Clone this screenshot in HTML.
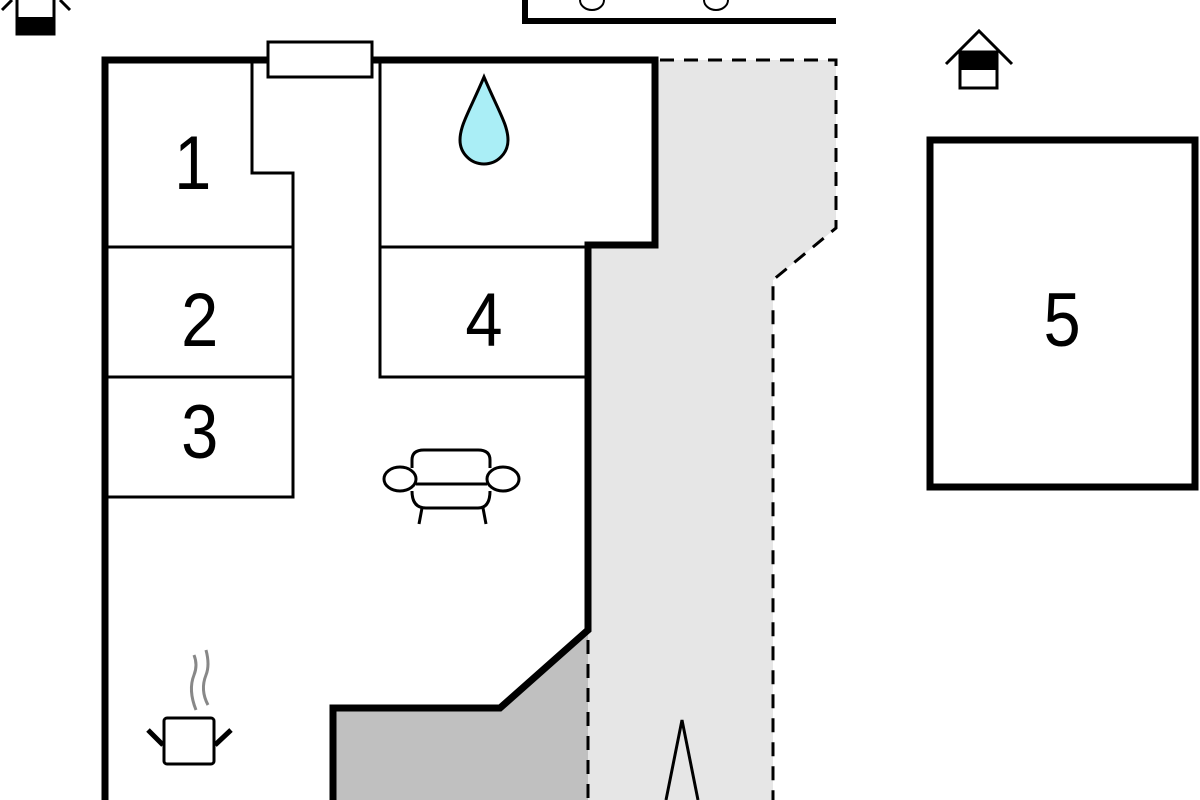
<!DOCTYPE html>
<html><head><style>
html,body{margin:0;padding:0;background:#fff;width:1200px;height:800px;overflow:hidden}
svg{display:block}
text{font-family:"Liberation Sans",sans-serif;font-size:76px;fill:#000;text-anchor:middle}
</style></head><body>
<svg width="1200" height="800" viewBox="0 0 1200 800" xmlns="http://www.w3.org/2000/svg">
<polygon points="655,60 836,60 836,228 773,280 773,800 588,800 588,245 655,245" fill="#e6e6e6"/>
<polygon points="333,708 500,708 588,630 588,800 333,800" fill="#c0c0c0"/>
<g fill="none" stroke="#000" stroke-width="3" stroke-dasharray="14,10">
<polyline points="660,60 836,60 836,228 773,280 773,800"/>
<line x1="588" y1="640" x2="588" y2="800"/>
</g>
<polyline points="105,800 105,60 655,60 655,245 588,245 588,630 500,708 333,708 333,800" fill="none" stroke="#000" stroke-width="7"/>
<g fill="none" stroke="#000" stroke-width="3">
<polyline points="252,60 252,173 293,173 293,497 105,497"/>
<line x1="105" y1="247" x2="293" y2="247"/>
<line x1="105" y1="377" x2="293" y2="377"/>
<polyline points="380,60 380,377 588,377"/>
<line x1="380" y1="247" x2="588" y2="247"/>
</g>
<rect x="268" y="42" width="104" height="35" fill="#fff" stroke="#000" stroke-width="3"/>
<path d="M484,77 C470,110 460,125 460,140 A24,24 0 0 0 508,140 C508,125 498,110 484,77 Z" fill="#aaeef6" stroke="#000" stroke-width="3"/>
<g transform="scale(0.88,1)">
<text x="219" y="189">1</text>
<text x="227" y="346">2</text>
<text x="227" y="458">3</text>
<text x="550" y="346">4</text>
<text x="1207" y="346">5</text>
</g>
<rect x="930" y="140" width="265" height="347" fill="none" stroke="#000" stroke-width="7"/>
<polyline points="525,0 525,21 836,21" fill="none" stroke="#000" stroke-width="6"/>
<path d="M580,0 A12,10 0 0 0 604,0 M704,0 A12,10 0 0 0 728,0" fill="none" stroke="#000" stroke-width="2"/>
<g fill="none" stroke="#000" stroke-width="3">
<polyline points="946,64 979,31 1012,64"/>
<polyline points="2,10 12,0"/>
<polyline points="60,0 70,10"/>
</g>
<rect x="960" y="52" width="37" height="36" fill="#fff" stroke="#000" stroke-width="3"/>
<rect x="960" y="52" width="37" height="18" fill="#000"/>
<rect x="17" y="-2" width="37" height="36" fill="#fff" stroke="#000" stroke-width="3"/>
<rect x="17" y="17" width="37" height="18" fill="#000"/>
<g fill="none" stroke="#000" stroke-width="3">
<path d="M412,468 L412,460 Q412,450 424,450 L478,450 Q490,450 490,460 L490,468"/>
<ellipse cx="400" cy="479" rx="16" ry="12" fill="#fff"/>
<ellipse cx="503" cy="479" rx="16" ry="12" fill="#fff"/>
<line x1="416" y1="484" x2="487" y2="484"/>
<path d="M412,491 Q412,508 426,508 L478,508 Q490,508 490,491"/>
<line x1="422" y1="508" x2="419" y2="524"/>
<line x1="483" y1="508" x2="486" y2="524"/>
</g>
<g fill="none" stroke="#888" stroke-width="3">
<path d="M196,710 Q188,690 194,675 Q198,665 194,655"/>
<path d="M208,705 Q200,690 206,675 Q210,665 206,650"/>
</g>
<g fill="none" stroke="#000">
<rect x="164" y="718" width="50" height="46" rx="3" stroke-width="3"/>
<line x1="148" y1="730" x2="163" y2="745" stroke-width="5"/>
<line x1="231" y1="730" x2="215" y2="745" stroke-width="5"/>
</g>
<polyline points="666,800 682,720 698,800" fill="none" stroke="#000" stroke-width="3"/>
</svg>
</body></html>
